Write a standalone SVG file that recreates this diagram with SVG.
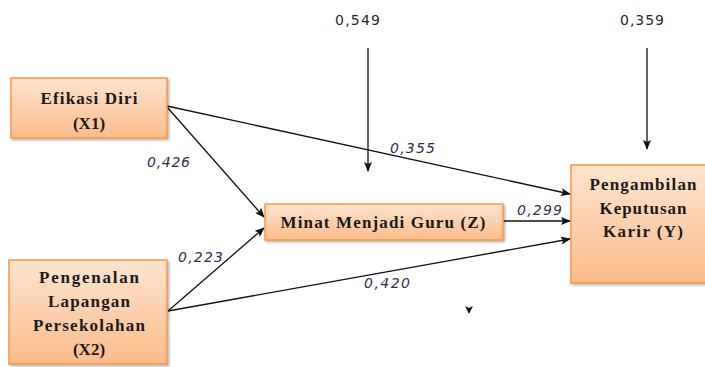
<svg xmlns="http://www.w3.org/2000/svg" width="705" height="367" viewBox="0 0 705 367">
<style>
.box{fill:url(#g);stroke:#f79646;stroke-width:1.5;filter:url(#sh)}
.bt{font-family:"Liberation Serif",serif;font-weight:bold;font-size:17px;fill:#1a1a1a;text-anchor:middle}
.lbl{font-family:"DejaVu Sans",sans-serif;font-style:italic;font-size:14px;fill:#2a3050}
.top{font-family:"DejaVu Sans",sans-serif;font-size:14px;fill:#2a2a2a}
.c{stroke:#111;stroke-width:1.3;fill:none;marker-end:url(#ah)}
</style>
<defs>
<linearGradient id="g" x1="0" y1="0" x2="0" y2="1">
<stop offset="0" stop-color="#fde4cf"/>
<stop offset="1" stop-color="#fbbc8a"/>
</linearGradient>
<filter id="sh" x="-10%" y="-10%" width="130%" height="130%">
<feDropShadow dx="1.5" dy="1.5" stdDeviation="1" flood-color="#000" flood-opacity="0.3"/>
</filter>
<marker id="ah" markerWidth="10" markerHeight="8" refX="9" refY="4" orient="auto" markerUnits="userSpaceOnUse">
<path d="M0,0 L10,4 L0,8 L2,4 Z" fill="#111"/>
</marker>
</defs>
<rect width="705" height="367" fill="#fff"/>
<g id="connectors">
<line class="c" x1="167" y1="106" x2="570" y2="194"/>
<line class="c" x1="167" y1="107" x2="264" y2="217"/>
<line class="c" x1="168" y1="311" x2="264" y2="228"/>
<line class="c" x1="168" y1="311" x2="570" y2="239"/>
<line class="c" x1="503" y1="221" x2="570" y2="221"/>
<line class="c" x1="368" y1="48" x2="368" y2="171"/>
<line class="c" x1="647" y1="48" x2="647" y2="149"/>
<path d="M465,306 L469,308 L473,306 L469,314 Z" fill="#111"/>
</g>
<g id="labels">
<text class="top" x="335" y="25" textLength="45">0,549</text>
<text class="top" x="620" y="25" textLength="44">0,359</text>
<text class="lbl" x="147" y="167" textLength="43">0,426</text>
<text class="lbl" x="390" y="153" textLength="45">0,355</text>
<text class="lbl" x="178" y="262" textLength="45">0,223</text>
<text class="lbl" x="364" y="288" textLength="46">0,420</text>
<text class="lbl" x="517" y="215" textLength="45">0,299</text>
</g>
<g id="x1">
<rect class="box" x="11" y="78" width="156" height="60"/>
<text class="bt" x="89" y="104" textLength="97">Efikasi Diri</text>
<text class="bt" x="89" y="129">(X1)</text>
</g>
<g id="x2">
<rect class="box" x="9" y="260" width="158" height="104"/>
<text class="bt" x="89" y="283" textLength="100">Pengenalan</text>
<text class="bt" x="89" y="307" textLength="82">Lapangan</text>
<text class="bt" x="89" y="331" textLength="112">Persekolahan</text>
<text class="bt" x="89" y="355">(X2)</text>
</g>
<g id="z">
<rect class="box" x="265" y="204" width="238" height="36"/>
<text class="bt" x="383" y="228" textLength="205">Minat Menjadi Guru (Z)</text>
</g>
<g id="y">
<rect class="box" x="571" y="165" width="145" height="118"/>
<text class="bt" x="643" y="190" textLength="107">Pengambilan</text>
<text class="bt" x="643" y="214" textLength="87">Keputusan</text>
<text class="bt" x="643" y="237" textLength="80">Karir (Y)</text>
</g>
</svg>
